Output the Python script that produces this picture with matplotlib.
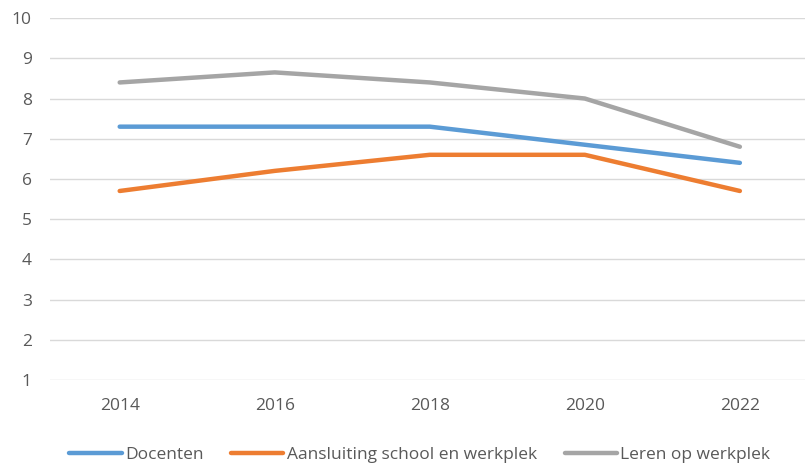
import numpy as np
import matplotlib.pyplot as plt

# ---data--- #
years = ['2014', '2016', '2018', '2020', '2022']
docenten = [7.3, 7.3, 7.3, 6.85, 6.4]
aansluiting = [5.7, 6.2, 6.6, 6.6, 5.7]
leren = [8.4, 8.65, 8.4, 8.0, 6.8]

labels = ['Docenten', 'Aansluiting school en werkplek', 'Leren op werkplek']
colors = ['#5B9BD5', '#ED7D31', '#A5A5A5']

plt.rcParams['font.family'] = ['Open Sans', 'DejaVu Sans']

fig = plt.figure(figsize=(8.05, 4.65), dpi=100)
ax = fig.add_axes([0.062, 0.183, 0.938, 0.778])

x = np.arange(len(years))
for vals, lab, col in zip([docenten, aansluiting, leren], labels, colors):
    ax.plot(x, vals, color=col, lw=3.2, label=lab, solid_capstyle='round',
            solid_joinstyle='round')

ax.set_ylim(1, 10)
ax.set_yticks(range(1, 11))
ax.set_xlim(-0.45, 4.42)
ax.set_xticks(x)
ax.set_xticklabels(years)
ax.grid(axis='y', color='#D9D9D9', lw=1)
ax.set_axisbelow(True)
for s in ax.spines.values():
    s.set_visible(False)
ax.tick_params(length=0, colors='#595959', labelsize=12.5)
ax.tick_params(axis='x', pad=13)
ax.tick_params(axis='y', pad=13)

ax.legend(loc='center', bbox_to_anchor=(0.49, -0.207), ncol=3, frameon=False,
          fontsize=12.5, labelcolor='#595959', handlelength=3.0, handletextpad=0.2,
          columnspacing=1.6)

plt.savefig('out.png', dpi=100)
